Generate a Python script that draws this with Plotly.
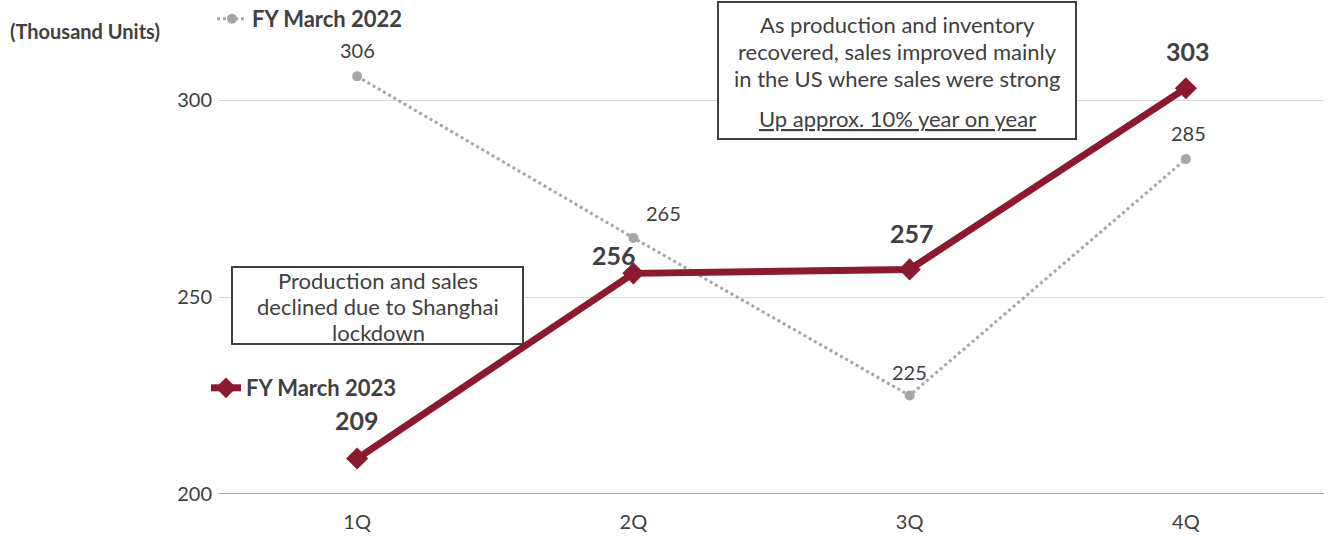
import plotly.graph_objects as go

quarters = ["1Q", "2Q", "3Q", "4Q"]
fy2022 = [306, 265, 225, 285]
fy2023 = [209, 256, 257, 303]
y_ticks = [200, 250, 300]

RED = "#8B1A2F"
GREY = "#A6A6A6"
TXT = "#404040"
FONT = "Lato"

L, R, T, B = 219, 4, 0, 46
W, H = 1328, 540
PW, PH = W - L - R, H - T - B


def px(X):
    return (X - L) / PW


def py(Y):
    return 1 - (Y - T) / PH


fig = go.Figure()
fig.add_trace(go.Scatter(
    x=quarters, y=fy2022, name="<b>FY March 2022</b>", mode="lines+markers",
    line=dict(color=GREY, width=3, dash="dot"),
    marker=dict(symbol="circle", size=10, color=GREY),
    legend="legend", showlegend=True,
))
fig.add_trace(go.Scatter(
    x=quarters, y=fy2023, name="<b>FY March 2023</b>", mode="lines+markers",
    line=dict(color=RED, width=7),
    marker=dict(symbol="diamond", size=17, color=RED),
    legend="legend2", showlegend=True,
))

# data labels
shifts22 = [(0, 26), (30, 25), (0, 24), (3, 26)]
for q, v, (dx, dy) in zip(quarters, fy2022, shifts22):
    fig.add_annotation(x=q, y=v, text=str(v), showarrow=False, xshift=dx, yshift=dy,
                       font=dict(family=FONT, size=20, color=TXT))
shifts23 = [(0, 39), (-19, 18), (2, 36), (2, 37)]
for q, v, (dx, dy) in zip(quarters, fy2023, shifts23):
    fig.add_annotation(x=q, y=v, text="<b>%d</b>" % v, showarrow=False, xshift=dx, yshift=dy,
                       font=dict(family=FONT, size=25, color=TXT))

# text boxes
box1 = ["Production and sales", "declined due to Shanghai", "lockdown"]
box1_y = [280, 306, 332]
fig.add_shape(type="rect", xref="paper", yref="paper",
              x0=px(232), x1=px(523), y0=py(267), y1=py(344),
              line=dict(color=TXT, width=2), fillcolor="white", layer="above")
for t, yy in zip(box1, box1_y):
    fig.add_annotation(xref="paper", yref="paper", x=px(378), y=py(yy), text=t,
                       showarrow=False, xanchor="center", yanchor="middle",
                       font=dict(family=FONT, size=22, color=TXT))

box2 = ["As production and inventory", "recovered, sales improved mainly",
        "in the US where sales were strong", "<u>Up approx. 10% year on year</u>"]
box2_y = [25, 51, 78, 118]
fig.add_shape(type="rect", xref="paper", yref="paper",
              x0=px(718), x1=px(1076), y0=py(2), y1=py(139),
              line=dict(color=TXT, width=2), fillcolor="white", layer="above")
for t, yy in zip(box2, box2_y):
    fig.add_annotation(xref="paper", yref="paper", x=px(897), y=py(yy), text=t,
                       showarrow=False, xanchor="center", yanchor="middle",
                       font=dict(family=FONT, size=22, color=TXT))

fig.add_annotation(
    xref="paper", yref="paper", x=px(8), y=py(31), xanchor="left", yanchor="middle",
    text="<b>(Thousand Units)</b>", showarrow=False,
    font=dict(family=FONT, size=20, color=TXT),
)

fig.update_layout(
    width=W, height=H,
    margin=dict(l=L, r=R, t=T, b=B, autoexpand=False),
    plot_bgcolor="white", paper_bgcolor="white",
    font=dict(family=FONT, size=20, color=TXT),
    showlegend=True,
    legend=dict(xref="container", yref="container", x=212 / W, y=1 - 19 / H,
                xanchor="left", yanchor="middle",
                bgcolor="rgba(0,0,0,0)", font=dict(family=FONT, size=22, color=TXT),
                itemwidth=30),
    legend2=dict(xref="container", yref="container", x=206 / W, y=1 - 388 / H,
                 xanchor="left", yanchor="middle",
                 bgcolor="rgba(0,0,0,0)", font=dict(family=FONT, size=22, color=TXT),
                 itemwidth=30),
    xaxis=dict(type="category", range=[-0.5, 3.5], showgrid=False, showline=False,
               zeroline=False, ticks="", ticklabelstandoff=14,
               tickfont=dict(size=20, color=TXT)),
    yaxis=dict(range=[200, 200 + PH / 3.94], tickvals=y_ticks, showgrid=True,
               gridcolor="#D9D9D9", gridwidth=1, zeroline=False, showline=False,
               ticks="", ticklabelstandoff=6, tickfont=dict(size=20, color=TXT)),
)
fig.add_hline(y=200, line=dict(color="#8C8C8C", width=1.5))

fig.write_html("out.html", config={"displayModeBar": False},
               post_script="document.body.style.margin='0';")
